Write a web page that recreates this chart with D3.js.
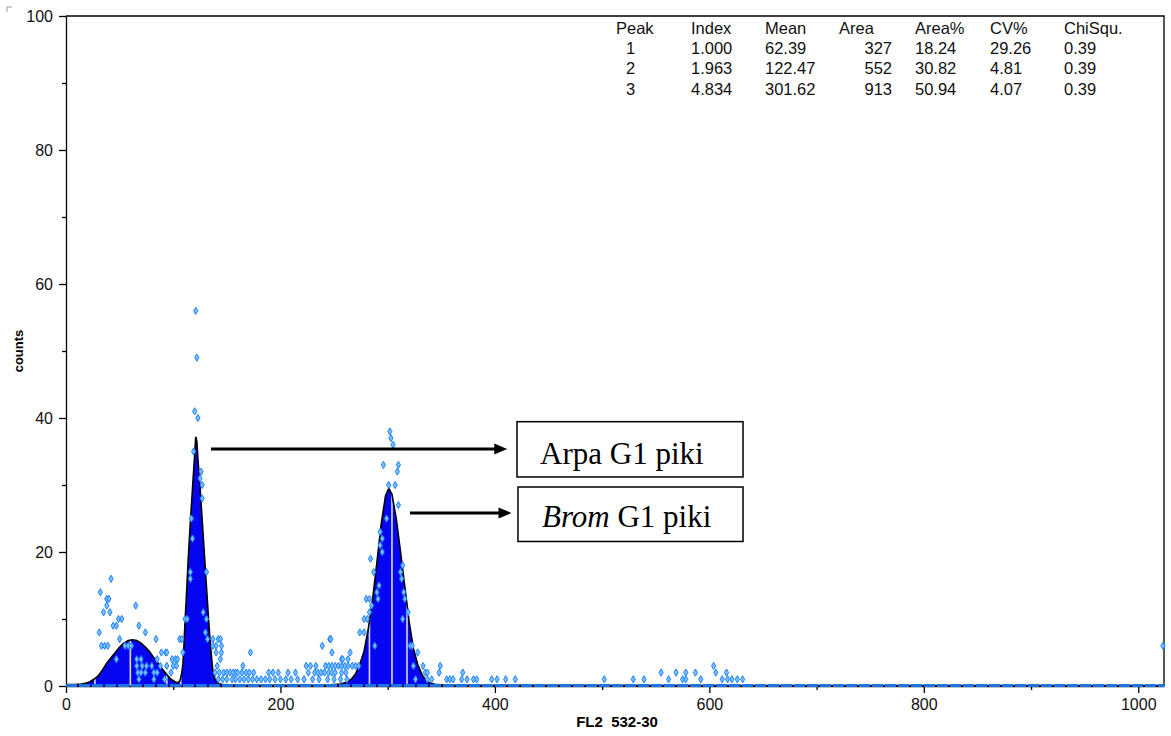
<!DOCTYPE html>
<html>
<head>
<meta charset="utf-8">
<script src="https://cdn.jsdelivr.net/npm/d3@7"></script>
<style>
  body { margin: 0; background: #fff; }
  svg { display: block; }
  .axis text { font-family: Arial, "Liberation Sans", sans-serif; font-size: 16px; fill: #111; }
  .axis path, .axis line { stroke: #000; stroke-width: 1.3; }
</style>
</head>
<body>
<svg id="chart" width="1171" height="736"></svg>
<script>
// fitted histogram (channel -> counts)
const fitCh = [0, 8, 14, 18, 22, 26, 30, 34, 38, 42, 46, 50, 54, 58, 62, 66, 70, 74, 78, 82,
  86, 90, 94, 98, 102, 104, 106, 107, 108, 109, 110, 111, 112, 114, 116, 118, 120, 121, 122, 123,
  125, 127, 129, 131, 133, 135, 137, 139, 142, 146, 160, 200, 240, 256, 262, 266, 270, 274, 278, 282,
  286, 290, 294, 298, 301, 304, 308, 312, 316, 320, 324, 328, 332, 336, 340, 346, 360, 1024];
const fitCount = [0.2, 0.2, 0.3, 0.4, 0.6, 1.0, 1.5, 2.4, 3.4, 4.2, 5.0, 5.8, 6.4, 6.8, 6.9, 6.8, 6.4, 5.8, 5.1, 4.2,
  3.4, 2.5, 1.7, 1.0, 0.6, 0.5, 0.7, 1.2, 2.0, 3.2, 6.0, 9.5, 12.5, 19.0, 24.5, 29.5, 34.5, 37.2, 36.5, 34.0,
  29.7, 24.8, 19.8, 14.8, 9.8, 5.5, 2.2, 1.0, 0.4, 0.2, 0.1, 0.1, 0.1, 0.3, 0.6, 1.0, 1.8, 3.2, 5.2, 8.6,
  13.0, 18.5, 24.2, 28.4, 29.5, 28.6, 25.0, 20.0, 14.8, 9.6, 5.6, 3.2, 1.7, 0.8, 0.4, 0.2, 0.1, 0.05];

// region marker channels (white lines inside the fill)
const markerCh = [27, 60, 94, 107, 283, 304, 318];

// raw events [channel, counts]
const scatterPeak1 = [[42,16],[32,14],[38,13],[40,13],[38,12],[65,12],[35,11],[41,11],[49,10],[52,10],
  [44,9],[47,9],[68,9],[31,8],[74,8],[50,7],[84,7],[33,6],[36,6],[39,6],[55,6],[58,6],[61,6],[89,5],[93,5],
  [94,5],[99,4],[102,4],[104,4],[47,4],[66,4],[70,4],[85,4],[66,3],[71,3],[75,3],[80,3],[88,3],[94,3],
  [67,2],[70,2],[74,2],[82,2],[85,2],[98,2],[68,1],[82,1],[92,1],[106,7],[111,10],[108,7],[109,5],
  [100,3],[103,3]];
const scatterPeak2 = [[121,56],[122,49],[120,41],[123,40],[119,35],[126,32],[125,31],[127,30],[127,28],
  [117,25],[118,22],[116,17],[116,16],[131,17],[113,10],[128,11],[130,8],[131,10],[132,7],[137,7],[142,7],
  [144,7],[145,6],[137,6],[140,6],[140,5],[145,5],[141,3],[144,4],[172,5],[165,3],[158,2]];
const scatterTrail = [[139,2],[143,2],[147,2],[150,2],[153,2],[156,2],[160,2],[164,2],[168,2],[171,2],[175,2],
  [189,2],[193,2],[198,2],[207,2],[214,2],[226,2],[232,2],[235,2],[238,2],[241,2],[245,2],[248,2],[251,2],
  [257,2],[261,2],[142,1],[146,1],[150,1],[155,1],[158,1],[162,1],[166,1],[170,1],[174,1],[178,1],[182,1],
  [186,1],[190,1],[195,1],[200,1],[205,1],[210,1],[216,1],[222,1],[230,1],[236,1],[244,1],[250,1],[256,1],
  [262,1],[224,3],[228,3],[233,3],[242,3],[245,3],[248,3],[251,3],[254,3],[257,3],[260,3],[263,3],[267,3],
  [270,3],[273,3],[257,4],[263,4],[258,4],[248,5],[265,5],[239,6],[246,7],[247,7]];
const scatterPeak3 = [[302,38],[303,37],[305,36],[296,33],[310,33],[309,32],[301,30],[307,30],[310,27],
  [299,25],[293,23],[295,22],[293,21],[295,20],[284,19],[287,17],[292,15],[290,14],[291,13],[280,13],
  [283,13],[285,12],[283,11],[278,10],[281,10],[274,8],[278,8],[288,6],[314,18],[312,17],[313,16],[315,14],
  [316,13],[319,11],[314,10],[321,6],[323,6],[328,5],[324,3]];
const scatterTail = [[326,1],[333,3],[335,2],[337,2],[337,1],[341,1],[348,2],[349,3],[355,1],[358,1],[361,1],
  [369,1],[370,2],[374,1],[380,1],[383,1],[397,1],[402,1],[410,1],[419,1],[502,1],[529,1],[539,1],[555,2],
  [562,1],[569,2],[575,1],[578,1],[578,2],[587,2],[592,1],[604,3],[606,2],[612,1],[616,2],[617,1],[621,1],
  [626,1],[631,1],[1023,6]];

const xMajor = [0, 200, 400, 600, 800, 1000];
const xMinor = [100, 300, 500, 700, 900];
const yMajor = [0, 20, 40, 60, 80, 100];
const yMinor = [10, 30, 50, 70, 90];

// peak statistics table
const tableHeader = ["Peak", "Index", "Mean", "Area", "Area%", "CV%", "ChiSqu."];
const peakNo = ["1", "2", "3"];
const peakIndex = ["1.000", "1.963", "4.834"];
const peakMean = ["62.39", "122.47", "301.62"];
const peakArea = ["327", "552", "913"];
const peakAreaPct = ["18.24", "30.82", "50.94"];
const peakCV = ["29.26", "4.81", "4.07"];
const peakChi = ["0.39", "0.39", "0.39"];

const svg = d3.select("#chart");
const plotL = 66, plotR = 1164, plotT = 16, plotB = 686;

const x = d3.scaleLinear().domain([0, 1024]).range([plotL, plotR]);
const y = d3.scaleLinear().domain([0, 100]).range([plotB, plotT]);

const fit = fitCh.map((c, i) => [c, fitCount[i]]);

const area = d3.area().x(d => x(d[0])).y0(y(0)).y1(d => y(d[1]));
const line = d3.line().x(d => x(d[0])).y(d => y(d[1]));

svg.append("defs").append("clipPath").attr("id", "fitClip")
   .append("path").attr("d", area(fit));

// filled fit
svg.append("path").attr("d", area(fit)).attr("fill", "#0505f2");

// marker lines inside fill
svg.append("g").attr("clip-path", "url(#fitClip)")
   .selectAll("line").data(markerCh).enter().append("line")
   .attr("x1", d => x(d)).attr("x2", d => x(d))
   .attr("y1", y(0)).attr("y2", y(60))
   .attr("stroke", "#d8dcff").attr("stroke-width", 1.6);

// outline
svg.append("path").attr("d", line(fit))
   .attr("fill", "none").attr("stroke", "#000").attr("stroke-width", 1.6);

// axes
svg.append("g").attr("class", "axis")
   .attr("transform", "translate(0," + plotB + ")")
   .call(d3.axisBottom(x).tickValues(xMajor).tickFormat(d3.format("d")).tickSize(7).tickSizeOuter(0).tickPadding(6));
svg.append("g").attr("class", "axis")
   .attr("transform", "translate(0," + plotB + ")")
   .call(d3.axisBottom(x).tickValues(xMinor).tickSize(4).tickSizeOuter(0).tickFormat(""))
   .select(".domain").remove();

svg.append("g").attr("class", "axis")
   .attr("transform", "translate(" + plotL + ",0)")
   .call(d3.axisLeft(y).tickValues(yMajor).tickSize(7).tickSizeOuter(0).tickPadding(6));
svg.append("g").attr("class", "axis")
   .attr("transform", "translate(" + plotL + ",0)")
   .call(d3.axisLeft(y).tickValues(yMinor).tickSize(4).tickSizeOuter(0).tickFormat(""))
   .select(".domain").remove();

// frame top + right
svg.append("path")
   .attr("d", "M" + plotL + "," + plotT + "H" + plotR + "V" + plotB)
   .attr("fill", "none").attr("stroke", "#000").attr("stroke-width", 1.3);

// zero-count events along baseline
svg.append("line")
   .attr("x1", x(0)).attr("x2", x(1024)).attr("y1", y(0) - 0.5).attr("y2", y(0) - 0.5)
   .attr("stroke", "#1a74e4").attr("stroke-width", 3).attr("stroke-dasharray", "11,2");

// raw event points
const allPoints = scatterPeak1.concat(scatterPeak2, scatterTrail, scatterPeak3, scatterTail);
const diamond = d3.symbol().type(d3.symbolDiamond).size(15);
svg.append("g").selectAll("path").data(allPoints).enter().append("path")
   .attr("d", diamond)
   .attr("transform", d => "translate(" + x(d[0]) + "," + y(d[1]) + ")")
   .attr("fill", "#7dbcff").attr("stroke", "#1c84fa").attr("stroke-width", 1);

// axis titles
svg.append("text")
   .attr("transform", "translate(23," + ((plotT + plotB) / 2) + ") rotate(-90)")
   .attr("text-anchor", "middle")
   .style("font-family", "Arial, 'Liberation Sans', sans-serif")
   .style("font-size", "13px").style("font-weight", "bold")
   .text("counts");

svg.append("text")
   .attr("x", (plotL + plotR) / 2 + 2).attr("y", 727)
   .attr("text-anchor", "middle")
   .style("font-family", "Arial, 'Liberation Sans', sans-serif")
   .style("font-size", "15px").style("font-weight", "bold")
   .style("white-space", "pre")
   .text("FL2  532-30");

// little corner mark
svg.append("path").attr("d", "M7,12V7H12").attr("fill", "none").attr("stroke", "#999").attr("stroke-width", 1);

// stats table
const colX = [616, 691, 765, 839, 915, 990, 1064];
const tbl = svg.append("g")
   .style("font-family", "Arial, 'Liberation Sans', sans-serif")
   .style("font-size", "16.5px").attr("fill", "#111");
tbl.selectAll("text.h").data(tableHeader).enter().append("text")
   .attr("x", (d, i) => colX[i]).attr("y", 34).text(d => d);
const cols = [peakNo, peakIndex, peakMean, peakArea, peakAreaPct, peakCV, peakChi];
cols.forEach((col, ci) => {
  tbl.selectAll(null).data(col).enter().append("text")
     .attr("x", ci === 0 ? colX[0] + 10 : ci === 3 ? colX[3] + 53 : colX[ci])
     .attr("text-anchor", ci === 3 ? "end" : "start")
     .attr("y", (d, i) => 54 + i * 20.3)
     .text(d => d);
});

// annotations (placed in data units)
const serif = "'Times New Roman', 'Liberation Serif', serif";
function arrow(x0, x1, yv) {
  const yy = y(yv), xs = x(x0), xt = x(x1);
  svg.append("line").attr("x1", xs).attr("x2", xt - 10).attr("y1", yy).attr("y2", yy)
     .attr("stroke", "#000").attr("stroke-width", 3);
  svg.append("path")
     .attr("d", "M" + xt + "," + yy + "L" + (xt - 13) + "," + (yy - 5.5) + "L" + (xt - 13) + "," + (yy + 5.5) + "Z")
     .attr("fill", "#000");
}
function box(c0, c1, v0, v1) {
  svg.append("rect")
     .attr("x", x(c0)).attr("y", y(v0))
     .attr("width", x(c1) - x(c0)).attr("height", y(v1) - y(v0))
     .attr("fill", "#fff").attr("stroke", "#000").attr("stroke-width", 1.5);
}

arrow(135.2, 411.5, 35.37);
box(420.6, 631.4, 39.45, 31.2);
svg.append("text").attr("x", x(442.1)).attr("y", y(33.1))
   .style("font-family", serif).style("font-size", "31px").attr("fill", "#000")
   .text("Arpa G1 piki");

arrow(320.8, 415.5, 25.82);
box(421.5, 631.4, 29.7, 21.57);
const t2 = svg.append("text").attr("x", x(443.9)).attr("y", y(23.66))
   .style("font-family", serif).style("font-size", "31px").attr("fill", "#000");
t2.append("tspan").style("font-style", "italic").text("Brom");
t2.append("tspan").text(" G1 piki");
</script>
</body>
</html>
